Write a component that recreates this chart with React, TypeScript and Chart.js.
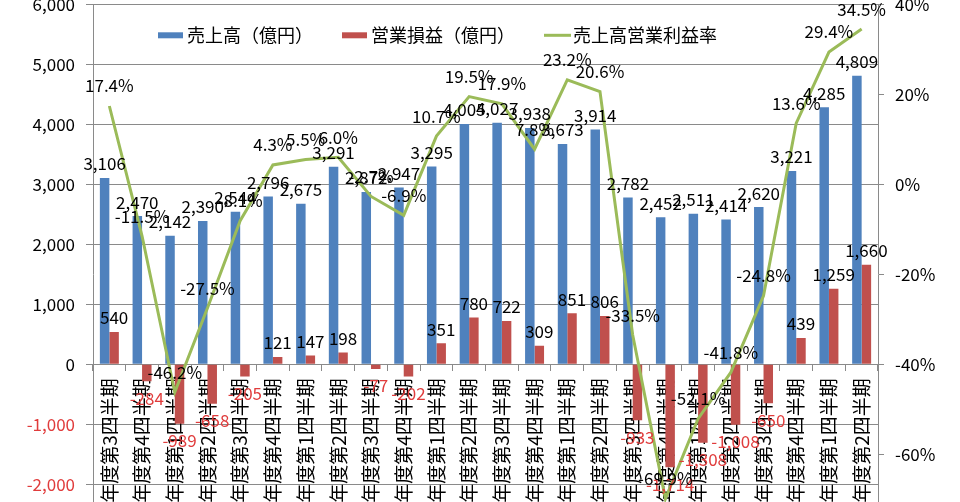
import React, { useEffect, useRef } from 'react';
import { Chart, registerables } from 'chart.js';

Chart.register(...registerables);

const FONT = '"Noto Sans CJK JP", "Noto Sans", sans-serif';

const categories = [
  '2018年度第3四半期', '2018年度第4四半期',
  '2019年度第1四半期', '2019年度第2四半期', '2019年度第3四半期', '2019年度第4四半期',
  '2020年度第1四半期', '2020年度第2四半期', '2020年度第3四半期', '2020年度第4四半期',
  '2021年度第1四半期', '2021年度第2四半期', '2021年度第3四半期', '2021年度第4四半期',
  '2022年度第1四半期', '2022年度第2四半期', '2022年度第3四半期', '2022年度第4四半期',
  '2023年度第1四半期', '2023年度第2四半期', '2023年度第3四半期', '2023年度第4四半期',
  '2024年度第1四半期', '2024年度第2四半期',
];

const sales = [
  3106, 2470, 2142, 2390, 2544, 2796, 2675, 3291, 2872, 2947, 3295, 4005,
  4027, 3938, 3673, 3914, 2782, 2452, 2511, 2414, 2620, 3221, 4285, 4809,
];

const operatingProfit = [
  540, -284, -989, -658, -205, 121, 147, 198, -77, -202, 351, 780,
  722, 309, 851, 806, -933, -1714, -1308, -1008, -650, 439, 1259, 1660,
];

const operatingMargin = [
  17.4, -11.5, -46.2, -27.5, -8.1, 4.3, 5.5, 6.0, -2.7, -6.9, 10.7, 19.5,
  17.9, 7.8, 23.2, 20.6, -33.5, -69.9, -52.1, -41.8, -24.8, 13.6, 29.4, 34.5,
];

const seriesNames = ['売上高（億円）', '営業損益（億円）', '売上高営業利益率'];

const leftMin = -3000;
const leftMax = 6000;
const leftStep = 1000;
const rightMin = -80;
const rightMax = 40;
const rightStep = 20;

const BLUE = '#4F81BD';
const RED = '#C0504D';
const GREEN = '#9BBB59';
const GRID = '#8A8A8A';
const NEG_TEXT = '#E03C3C';

const dataLabelPlugin = {
  id: 'dataLabels',
  afterDatasetsDraw(chart: any) {
    const ctx = chart.ctx;
    ctx.save();
    ctx.font = `17px ${FONT}`;
    ctx.textAlign = 'center';
    ctx.textBaseline = 'middle';
    chart.data.datasets.forEach((ds: any, i: number) => {
      const meta = chart.getDatasetMeta(i);
      meta.data.forEach((el: any, j: number) => {
        const v = ds.data[j] as number;
        let text = '';
        let y = el.y;
        let color = '#000';
        if (meta.type === 'bar') {
          text = v.toLocaleString('en-US');
          if (v >= 0) {
            y = el.y - 14;
          } else {
            y = el.y + 17;
            color = NEG_TEXT;
          }
        } else {
          text = v.toFixed(1) + '%';
          y = el.y - 20;
        }
        ctx.fillStyle = color;
        ctx.fillText(text, el.x, y);
      });
    });
    ctx.restore();
  },
};

const legendPlugin = {
  id: 'innerLegend',
  afterDraw(chart: any) {
    const ctx = chart.ctx;
    const area = chart.chartArea;
    ctx.save();
    ctx.font = `18px ${FONT}`;
    ctx.textBaseline = 'middle';
    ctx.textAlign = 'left';
    let x = area.left + 65;
    const y = area.top + 31;
    chart.data.datasets.forEach((ds: any) => {
      if (ds.type === 'line') {
        ctx.strokeStyle = ds.borderColor;
        ctx.lineWidth = 3;
        ctx.beginPath();
        ctx.moveTo(x, y);
        ctx.lineTo(x + 27, y);
        ctx.stroke();
      } else {
        ctx.fillStyle = ds.backgroundColor;
        ctx.fillRect(x, y - 3, 25, 6);
      }
      x += 29;
      ctx.fillStyle = '#000';
      ctx.fillText(ds.label, x, y);
      x += ctx.measureText(ds.label).width + 29;
    });
    ctx.restore();
  },
};

export default function App() {
  const canvasRef = useRef<HTMLCanvasElement | null>(null);

  useEffect(() => {
    if (!canvasRef.current) return;
    Chart.defaults.font.family = FONT;
    const chart = new Chart(canvasRef.current, {
      type: 'bar',
      data: {
        labels: categories,
        datasets: [
          {
            type: 'bar',
            label: seriesNames[0],
            data: sales,
            backgroundColor: BLUE,
            yAxisID: 'y',
            order: 2,
            barPercentage: 1,
            categoryPercentage: 0.58,
          },
          {
            type: 'bar',
            label: seriesNames[1],
            data: operatingProfit,
            backgroundColor: RED,
            yAxisID: 'y',
            order: 2,
            barPercentage: 1,
            categoryPercentage: 0.58,
          },
          {
            type: 'line',
            label: seriesNames[2],
            data: operatingMargin,
            borderColor: GREEN,
            backgroundColor: GREEN,
            borderWidth: 3,
            pointRadius: 0,
            tension: 0,
            yAxisID: 'y1',
            order: 1,
          } as any,
        ],
      },
      options: {
        responsive: false,
        animation: false,
        devicePixelRatio: 1,
        layout: { padding: { top: 34.3, bottom: 25.7, left: 0, right: 0 } },
        plugins: {
          legend: { display: false },
          tooltip: { enabled: false },
        },
        scales: {
          x: {
            position: { y: 0 } as any,
            offset: true,
            grid: {
              offset: true,
              drawOnChartArea: false,
              drawTicks: true,
              tickLength: 6,
              color: GRID,
            },
            border: { display: true, color: GRID },
            ticks: {
              autoSkip: false,
              maxRotation: 90,
              minRotation: 90,
              padding: 8,
              color: '#000',
              font: { size: 19, family: FONT },
            },
          },
          y: {
            position: 'left',
            min: leftMin,
            max: leftMax,
            ticks: {
              stepSize: leftStep,
              padding: 11,
              font: { size: 17, family: FONT },
              color: (c: any) => (c.tick && c.tick.value < 0 ? NEG_TEXT : '#000'),
              callback: (v: any) => Number(v).toLocaleString('en-US'),
            },
            grid: { color: GRID, tickLength: 7, drawTicks: true },
            border: { display: true, color: GRID },
            afterFit: (s: any) => {
              s.width = 93;
            },
          },
          y1: {
            position: 'right',
            min: rightMin,
            max: rightMax,
            ticks: {
              stepSize: rightStep,
              padding: 11,
              font: { size: 17, family: FONT },
              color: '#000',
              callback: (v: any) => `${v}%`,
            },
            grid: { drawOnChartArea: false, color: GRID, tickLength: 6, drawTicks: true },
            border: { display: true, color: GRID },
            afterFit: (s: any) => {
              s.width = 82;
            },
          },
        },
      },
      plugins: [dataLabelPlugin, legendPlugin],
    });
    return () => chart.destroy();
  }, []);

  return (
    <div style={{ position: 'absolute', left: 0, top: -30, width: 960, height: 600, background: '#fff' }}>
      <canvas ref={canvasRef} width={960} height={600} style={{ width: 960, height: 600, display: 'block' }} />
    </div>
  );
}
